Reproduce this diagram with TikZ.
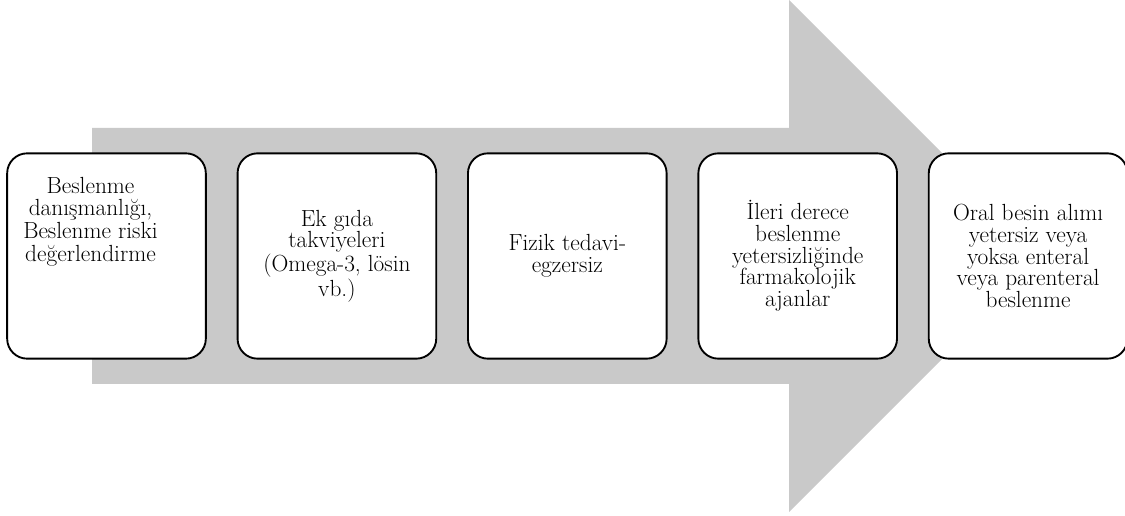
\documentclass[tikz,border=0pt]{standalone}
\usepackage{tikz}
\usetikzlibrary{positioning}
\definecolor{arrowgray}{HTML}{C9C9C9}

\begin{document}
\begin{tikzpicture}[x=0.75pt,y=-0.75pt,font=\fontsize{17.5}{16.3}\selectfont,
  node distance=22.4pt,
  box/.style={draw=black,line width=1.4pt,rounded corners=15pt,fill=white,
              minimum width=149pt,minimum height=154pt,align=center,inner sep=3pt}]
 \useasboundingbox (0,0) rectangle (1125,516);
 % big background arrow
 \fill[arrowgray] (92,128) -- (789,128) -- (789,0) -- (1045,256)
   -- (789,512) -- (789,384) -- (92,384) -- cycle;
 \node[box,text depth=80pt] (b1) at (106.5,256)
   {\begin{tabular}{@{}c@{}}Beslenme\\danışmanlığı,\\Beslenme riski\\değerlendirme\end{tabular}\hspace{24pt}};
 \node[box,right=of b1] (b2) {Ek gıda\\takviyeleri\\(Omega-3, lösin\\vb.)};
 \node[box,right=of b2] (b3) {Fizik tedavi-\\egzersiz};
 \node[box,right=of b3] (b4) {İleri derece\\beslenme\\yetersizliğinde\\farmakolojik\\ajanlar};
 \node[box,right=of b4] (b5) {Oral besin alımı\\yetersiz veya\\yoksa enteral\\veya parenteral\\beslenme};
\end{tikzpicture}
\end{document}
